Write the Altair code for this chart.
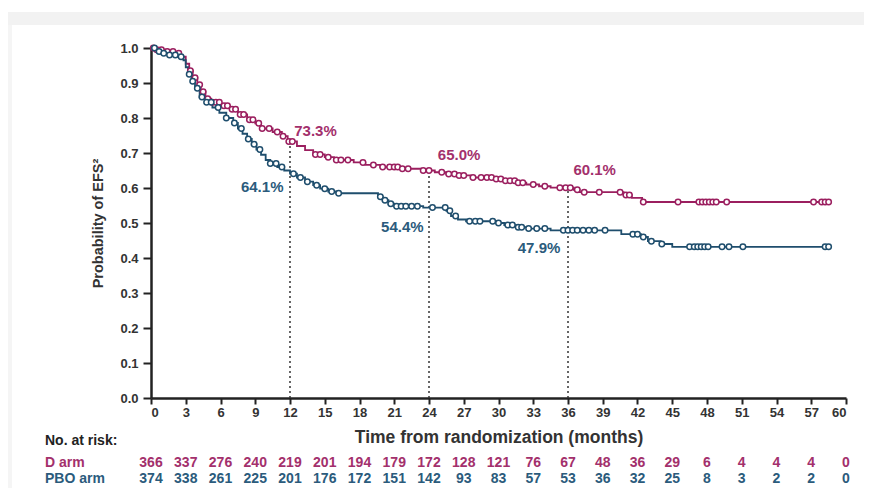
import altair as alt
import pandas as pd
import numpy as np

# ---- Kaplan-Meier step data ----
d_time = [0, 0.5, 1.2, 2.0, 2.6, 3.0, 3.3, 3.6, 4.0, 4.3, 4.7, 5.2, 6.0, 6.8, 7.5, 8.3, 9.0, 9.5,
          10.5, 11.3, 11.8, 12.6, 13.3, 14.0, 15.0, 15.8, 17.5, 18.5, 19.8, 21.5, 23.3, 24.5, 25.5,
          26.5, 27.6, 29.8, 30.5, 31.5, 32.4, 33.5, 34.5, 36.5, 37.0, 40.8, 41.5, 42.4, 58.5]
d_surv = [1.0, 0.995, 0.99, 0.985, 0.975, 0.955, 0.935, 0.915, 0.895, 0.875, 0.855, 0.845, 0.835,
          0.825, 0.81, 0.795, 0.785, 0.77, 0.76, 0.748, 0.733, 0.72, 0.708, 0.696, 0.688, 0.68,
          0.673, 0.666, 0.66, 0.655, 0.65, 0.645, 0.64, 0.636, 0.63, 0.626, 0.621, 0.615, 0.61,
          0.605, 0.601, 0.595, 0.588, 0.58, 0.572, 0.56, 0.56]

p_time = [0, 0.4, 0.8, 1.5, 2.3, 2.8, 3.0, 3.2, 3.5, 3.8, 4.2, 4.7, 5.3, 5.9, 6.5, 7.1, 7.5, 7.9,
          8.3, 8.7, 9.1, 9.5, 9.9, 10.3, 10.9, 11.5, 12.0, 12.6, 13.3, 14.0, 14.6, 15.3, 16.0,
          19.6, 20.0, 20.5, 21.0, 23.5, 25.5, 25.9, 26.5, 27.2, 29.8, 30.5, 31.5, 32.5, 34.5,
          40.6, 42.3, 42.9, 44.0, 45.0, 58.5]
p_surv = [1.0, 0.99, 0.985, 0.98, 0.975, 0.965, 0.945, 0.925, 0.905, 0.885, 0.86, 0.845, 0.83,
          0.815, 0.80, 0.786, 0.77, 0.755, 0.74, 0.725, 0.71, 0.695, 0.68, 0.67, 0.66, 0.65, 0.641,
          0.63, 0.618, 0.608, 0.598, 0.59, 0.585, 0.575, 0.565, 0.555, 0.548, 0.544, 0.535, 0.52,
          0.51, 0.505, 0.5, 0.494, 0.488, 0.484, 0.479, 0.468, 0.46, 0.448, 0.44, 0.432, 0.432]

d_censor = [0.2, 0.5, 0.9, 1.4, 1.9, 2.4, 3.4, 3.8, 4.2, 4.5, 4.9, 5.3, 5.6, 5.9, 6.3, 6.6, 7.0,
            7.3, 7.7, 8.0, 8.5, 8.8, 9.3, 9.6, 10.2, 10.9, 11.4, 11.9, 12.2, 14.2, 14.6, 15.3,
            16.0, 16.4, 17.0, 18.3, 19.2, 20.0, 20.6, 21.0, 21.3, 21.7, 22.2, 23.5, 24.0, 25.1,
            25.7, 26.2, 26.6, 27.0, 27.8, 28.5, 29.0, 29.4, 29.8, 30.2, 30.6, 31.0, 31.4, 31.7,
            32.1, 33.0, 34.0, 35.3, 35.8, 36.2, 36.8, 37.4, 38.7, 40.5, 41.0, 41.3, 42.5, 45.5,
            47.3, 47.6, 47.9, 48.2, 48.5, 48.8, 49.7, 57.2, 57.9, 58.2, 58.5]
p_censor = [0.3, 0.7, 1.1, 1.6, 2.1, 2.6, 3.3, 3.6, 4.0, 4.4, 4.8, 5.2, 5.8, 6.5, 7.2, 7.8, 8.4,
            8.9, 9.4, 10.3, 10.8, 11.3, 12.3, 12.9, 13.5, 14.3, 15.0, 15.6, 16.2, 19.8, 20.2,
            20.7, 21.2, 21.6, 22.0, 22.5, 23.0, 24.3, 25.4, 25.8, 26.3, 27.5, 28.0, 28.4, 29.5,
            30.0, 30.8, 31.2, 31.7, 32.0, 32.6, 33.3, 34.0, 35.6, 36.0, 36.4, 36.8, 37.3, 37.8,
            38.3, 39.2, 41.6, 42.0, 42.5, 43.2, 44.1, 46.5, 46.9, 47.2, 47.5, 47.8, 48.1, 49.3,
            49.9, 51.1, 58.2, 58.5]

# landmark annotations
mark_times = [12, 24, 36]
d_landmark = [0.733, 0.650, 0.601]
d_labels = ["73.3%", "65.0%", "60.1%"]
d_label_pos = [(14.2, 0.762), (26.6, 0.694), (38.3, 0.651)]
p_labels = ["64.1%", "54.4%", "47.9%"]
p_label_pos = [(9.6, 0.603), (21.7, 0.489), (33.5, 0.429)]

# number at risk
risk_times = list(range(0, 61, 3))
d_risk = [366, 337, 276, 240, 219, 201, 194, 179, 172, 128, 121, 76, 67, 48, 36, 29, 6, 4, 4, 4, 0]
p_risk = [374, 338, 261, 225, 201, 176, 172, 151, 142, 93, 83, 57, 53, 36, 32, 25, 8, 3, 2, 2, 0]

D_COL = "#9b1f5f"
P_COL = "#1f4e6d"
D_TXT = "#a3306c"
P_TXT = "#2b5b7c"
FONT = "Liberation Sans"


def step_value(times, survs, t):
    idx = np.searchsorted(np.array(times), t, side="right") - 1
    return survs[max(idx, 0)]


d_df = pd.DataFrame({"t": d_time, "s": d_surv})
p_df = pd.DataFrame({"t": p_time, "s": p_surv})
dc_df = pd.DataFrame({"t": d_censor, "s": [step_value(d_time, d_surv, t) for t in d_censor]})
pc_df = pd.DataFrame({"t": p_censor, "s": [step_value(p_time, p_surv, t) for t in p_censor]})
rule_df = pd.DataFrame({"t": mark_times, "s": [0] * 3, "s1": d_landmark})
dl_df = pd.DataFrame({"t": [p[0] for p in d_label_pos], "s": [p[1] for p in d_label_pos], "lab": d_labels})
pl_df = pd.DataFrame({"t": [p[0] for p in p_label_pos], "s": [p[1] for p in p_label_pos], "lab": p_labels})
dr_df = pd.DataFrame({"t": risk_times, "n": [str(v) for v in d_risk]})
pr_df = pd.DataFrame({"t": risk_times, "n": [str(v) for v in p_risk]})

xscale = alt.Scale(domain=[0, 60], nice=False, zero=False)
yscale = alt.Scale(domain=[0, 1], nice=False)

xaxis = alt.Axis(values=risk_times, title="Time from randomization (months)", labelFont=FONT,
                 labelFontWeight="bold", labelFontSize=13, labelColor="#333333", labelOverlap=False,
                 titleFont=FONT, titleFontWeight="bold", titleFontSize=17.5, titleColor="#333333",
                 titlePadding=9, domainWidth=2.5, domainColor="#222222", tickColor="#222222",
                 tickWidth=2, tickSize=6, labelPadding=2, grid=False)
yaxis = alt.Axis(values=[i / 10 for i in range(11)], format=".1f", title="Probability of EFS²",
                 labelFont=FONT, labelFontWeight="bold", labelFontSize=13, labelColor="#333333",
                 labelOverlap=False,
                 titleFont=FONT, titleFontWeight="bold", titleFontSize=14.5, titleColor="#333333",
                 titlePadding=14, domainWidth=2.5, domainColor="#222222", tickColor="#222222",
                 tickWidth=2, tickSize=8, labelPadding=5, grid=False)

X = alt.X("t:Q", scale=xscale, axis=xaxis)
Y = alt.Y("s:Q", scale=yscale, axis=yaxis)

band = alt.Chart(pd.DataFrame({"a": [0]})).mark_rect(color="#f2f2f2").encode(
    x=alt.value(-143), x2=alt.value(729), y=alt.value(-36), y2=alt.value(-23))
side = alt.Chart(pd.DataFrame({"a": [0]})).mark_rect(color="#f5f5f5").encode(
    x=alt.value(-143), x2=alt.value(-139), y=alt.value(-23), y2=alt.value(440))

rules = alt.Chart(rule_df).mark_rule(color="#333333", strokeDash=[2, 3], strokeWidth=1.5).encode(
    x=X, y=Y, y2="s1:Q")

d_line = alt.Chart(d_df).mark_line(interpolate="step-after", color=D_COL, strokeWidth=1.8).encode(x=X, y=Y)
p_line = alt.Chart(p_df).mark_line(interpolate="step-after", color=P_COL, strokeWidth=1.8).encode(x=X, y=Y)

d_pts = alt.Chart(dc_df).mark_point(shape="circle", size=30, filled=False, stroke=D_COL,
                                    fill="white", fillOpacity=1, strokeWidth=1.5).encode(x=X, y=Y)
p_pts = alt.Chart(pc_df).mark_point(shape="circle", size=30, filled=False, stroke=P_COL,
                                    fill="white", fillOpacity=1, strokeWidth=1.5).encode(x=X, y=Y)

d_lab = alt.Chart(dl_df).mark_text(font=FONT, fontWeight="bold", fontSize=15, color=D_TXT).encode(
    x=X, y=Y, text="lab:N")
p_lab = alt.Chart(pl_df).mark_text(font=FONT, fontWeight="bold", fontSize=15, color=P_TXT).encode(
    x=X, y=Y, text="lab:N")

d_risk_t = alt.Chart(dr_df).mark_text(font=FONT, fontWeight="bold", fontSize=14, color=D_TXT).encode(
    x=X, y=alt.value(415), text="n:N")
p_risk_t = alt.Chart(pr_df).mark_text(font=FONT, fontWeight="bold", fontSize=14, color=P_TXT).encode(
    x=X, y=alt.value(431), text="n:N")

row_lab_df = pd.DataFrame({"lab": ["No. at risk:", "D arm", "PBO arm"], "y": [393, 415, 431],
                           "c": ["#222222", D_TXT, P_TXT]})
row_labs = alt.Chart(row_lab_df).mark_text(font=FONT, fontWeight="bold", fontSize=14, align="left").encode(
    x=alt.value(-106), y=alt.Y("y:Q", scale=None), text="lab:N", color=alt.Color("c:N", scale=None))

chart = alt.layer(band, side, rules, d_line, p_line, d_pts, p_pts, d_lab, p_lab, d_risk_t, p_risk_t,
                  row_labs).properties(
    width=695, height=350,
    autosize=alt.AutoSizeParams(type="none"),
    padding={"left": 143, "top": 40, "right": 18, "bottom": 90},
    background="white",
).configure_view(stroke=None)

chart.save("out.html", embed_options={"renderer": "svg", "actions": False})
